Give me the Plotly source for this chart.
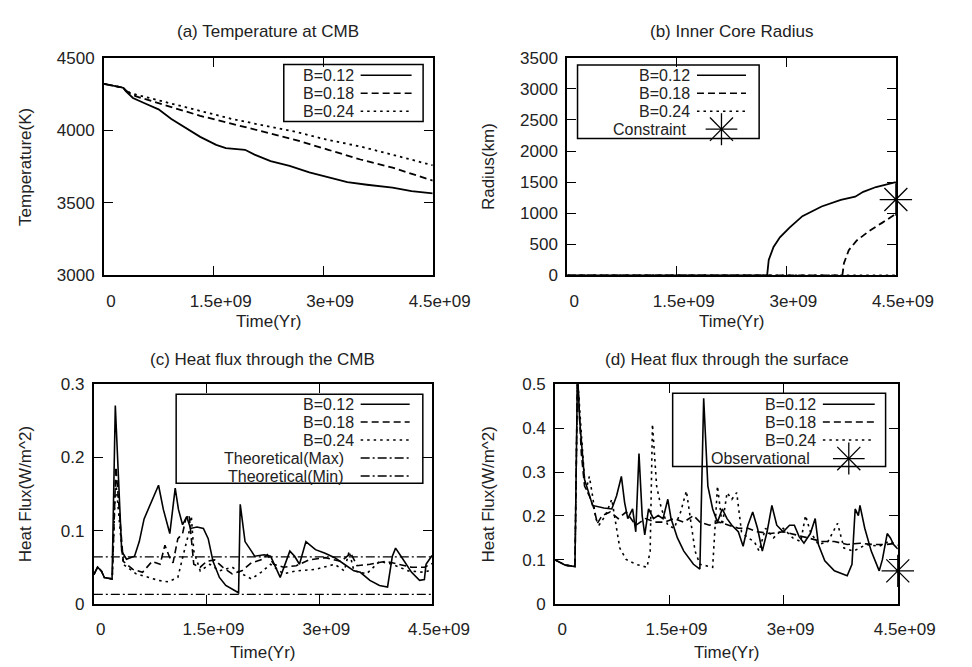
import plotly.graph_objects as go

W, H = 972, 667
FONT = "Liberation Sans"
FS = 17

# ---------------- data ----------------
# (a) Temperature at CMB
ta_012 = [0, 0.26e9, 0.3e9, 0.35e9, 0.395e9, 0.57e9, 0.746e9, 0.921e9, 1.14e9, 1.316e9, 1.535e9,
          1.667e9, 1.93e9, 2.06e9, 2.28e9, 2.54e9, 2.81e9, 3.07e9, 3.33e9, 3.6e9, 3.95e9, 4.21e9, 4.5e9]
Ta_012 = [4320, 4294, 4268, 4245, 4223, 4183, 4145, 4078, 4011, 3955, 3900,
          3877, 3866, 3833, 3788, 3755, 3710, 3676, 3643, 3625, 3605, 3581, 3565]
ta_018 = [0, 0.26e9, 0.3e9, 0.35e9, 0.44e9, 0.877e9, 1.316e9, 1.754e9, 2.19e9, 2.63e9, 3.07e9, 3.51e9, 3.95e9, 4.5e9]
Ta_018 = [4320, 4294, 4275, 4255, 4234, 4167, 4100, 4045, 3989, 3933, 3866, 3799, 3743, 3654]
ta_024 = [0, 0.26e9, 0.3e9, 0.35e9, 0.44e9, 0.877e9, 1.316e9, 1.754e9, 2.19e9, 2.63e9, 3.07e9, 3.51e9, 3.95e9, 4.5e9]
Ta_024 = [4320, 4294, 4276, 4260, 4246, 4190, 4134, 4078, 4033, 3989, 3933, 3889, 3832, 3759]

# (b) Inner core radius
tb_012 = [0, 2.737e9, 2.759e9, 2.825e9, 2.912e9, 3.044e9, 3.22e9, 3.483e9, 3.746e9, 3.943e9, 4.053e9, 4.228e9, 4.5e9]
rb_012 = [0, 0, 250, 458, 614, 770, 953, 1109, 1214, 1266, 1344, 1422, 1500]
tb_018 = [0, 3.767e9, 3.789e9, 3.855e9, 3.965e9, 4.14e9, 4.316e9, 4.5e9]
rb_018 = [0, 0, 198, 406, 562, 719, 849, 990]
tb_024 = [0, 4.5e9]
rb_024 = [0, 0]
constraint_t = [4.5e9]
constraint_r = [1220]

# (c) Heat flux through the CMB
tc_012 = [0, 0.05e9, 0.1e9, 0.14e9, 0.243e9, 0.286e9, 0.371e9, 0.435e9, 0.542e9, 0.605e9, 0.669e9, 0.776e9,
          0.861e9, 0.925e9, 1.011e9, 1.083e9, 1.126e9, 1.181e9, 1.236e9, 1.287e9, 1.373e9, 1.458e9, 1.522e9,
          1.586e9, 1.671e9, 1.756e9, 1.841e9, 1.926e9, 1.948e9, 2.012e9, 2.097e9, 2.14e9, 2.267e9, 2.352e9,
          2.48e9, 2.544e9, 2.608e9, 2.672e9, 2.736e9, 2.822e9, 2.949e9, 3.077e9, 3.205e9, 3.333e9, 3.46e9,
          3.546e9, 3.673e9, 3.801e9, 3.908e9, 3.972e9, 4.015e9, 4.1e9, 4.228e9, 4.334e9, 4.398e9, 4.42e9, 4.5e9]
qc_012 = [0.04, 0.05, 0.045, 0.036, 0.034, 0.271, 0.072, 0.061, 0.065, 0.085, 0.116, 0.142,
          0.162, 0.129, 0.096, 0.158, 0.129, 0.108, 0.119, 0.103, 0.105, 0.103, 0.089,
          0.058, 0.036, 0.025, 0.020, 0.015, 0.136, 0.085, 0.072, 0.065, 0.067, 0.065,
          0.036, 0.054, 0.072, 0.065, 0.054, 0.085, 0.074, 0.069, 0.063, 0.054, 0.045,
          0.043, 0.032, 0.025, 0.023, 0.065, 0.076, 0.063, 0.043, 0.032, 0.033, 0.054, 0.066]
tc_018 = [0, 0.05e9, 0.1e9, 0.14e9, 0.245e9, 0.294e9, 0.392e9, 0.52e9, 0.648e9, 0.776e9, 0.882e9, 0.946e9,
          1.011e9, 1.054e9, 1.118e9, 1.181e9, 1.224e9, 1.267e9, 1.33e9, 1.416e9, 1.501e9, 1.607e9, 1.714e9,
          1.841e9, 1.97e9, 2.097e9, 2.225e9, 2.31e9, 2.395e9, 2.523e9, 2.693e9, 2.864e9, 3.077e9, 3.29e9,
          3.418e9, 3.503e9, 3.673e9, 3.886e9, 4.057e9, 4.228e9, 4.398e9, 4.5e9]
qc_018 = [0.04, 0.05, 0.045, 0.036, 0.034, 0.187, 0.058, 0.047, 0.043, 0.058, 0.054, 0.080,
          0.063, 0.056, 0.089, 0.096, 0.116, 0.122, 0.054, 0.050, 0.058, 0.060, 0.050,
          0.041, 0.045, 0.056, 0.060, 0.067, 0.054, 0.050, 0.052, 0.060, 0.063, 0.058,
          0.069, 0.052, 0.054, 0.058, 0.054, 0.050, 0.050, 0.055]
tc_024 = [0, 0.05e9, 0.1e9, 0.14e9, 0.245e9, 0.29e9, 0.392e9, 0.563e9, 0.733e9, 0.861e9, 0.989e9, 1.118e9,
          1.203e9, 1.267e9, 1.297e9, 1.33e9, 1.416e9, 1.544e9, 1.671e9, 1.841e9, 1.97e9, 2.097e9, 2.225e9,
          2.352e9, 2.523e9, 2.693e9, 2.949e9, 3.205e9, 3.333e9, 3.397e9, 3.46e9, 3.631e9, 3.801e9, 3.972e9,
          4.185e9, 4.398e9, 4.5e9]
qc_024 = [0.04, 0.05, 0.045, 0.036, 0.034, 0.17, 0.054, 0.041, 0.036, 0.032, 0.030, 0.036,
          0.072, 0.098, 0.120, 0.072, 0.045, 0.054, 0.045, 0.050, 0.041, 0.034, 0.043,
          0.054, 0.041, 0.045, 0.047, 0.054, 0.045, 0.072, 0.045, 0.041, 0.058, 0.054,
          0.045, 0.043, 0.047]
tc_theory = [0, 4.5e9]
qc_max = [0.064, 0.064]
qc_min = [0.013, 0.013]

# (d) Heat flux through the surface
td_012 = [0, 0.05e9, 0.133e9, 0.259e9, 0.292e9, 0.322e9, 0.385e9, 0.427e9, 0.49e9, 0.638e9, 0.743e9, 0.806e9,
          0.869e9, 0.911e9, 0.953e9, 1.016e9, 1.058e9, 1.1e9, 1.142e9, 1.176e9, 1.226e9, 1.29e9, 1.353e9,
          1.416e9, 1.479e9, 1.521e9, 1.605e9, 1.689e9, 1.816e9, 1.9e9, 1.95e9, 2.005e9, 2.068e9, 2.131e9,
          2.194e9, 2.257e9, 2.32e9, 2.405e9, 2.468e9, 2.531e9, 2.594e9, 2.657e9, 2.72e9, 2.783e9, 2.846e9,
          2.91e9, 2.994e9, 3.078e9, 3.141e9, 3.204e9, 3.267e9, 3.351e9, 3.415e9, 3.457e9, 3.541e9, 3.667e9,
          3.835e9, 3.898e9, 3.94e9, 3.982e9, 4.003e9, 4.066e9, 4.151e9, 4.256e9, 4.298e9, 4.361e9, 4.403e9,
          4.445e9, 4.5e9]
qd_012 = [0.1, 0.095, 0.088, 0.085, 0.53, 0.416, 0.283, 0.26, 0.224, 0.218, 0.216, 0.246,
          0.290, 0.231, 0.194, 0.216, 0.164, 0.342, 0.201, 0.157, 0.216, 0.194, 0.201,
          0.194, 0.238, 0.194, 0.150, 0.120, 0.090, 0.079, 0.468, 0.268, 0.216, 0.186,
          0.216, 0.194, 0.179, 0.164, 0.131, 0.179, 0.209, 0.172, 0.120, 0.164, 0.224,
          0.179, 0.164, 0.179, 0.179, 0.153, 0.138, 0.160, 0.194, 0.135, 0.098, 0.075,
          0.064, 0.090, 0.216, 0.201, 0.224, 0.172, 0.120, 0.075, 0.101, 0.160, 0.150,
          0.135, 0.125]
td_018 = [0, 0.05e9, 0.133e9, 0.259e9, 0.292e9, 0.343e9, 0.385e9, 0.448e9, 0.511e9, 0.553e9, 0.616e9, 0.722e9,
          0.827e9, 0.932e9, 1.058e9, 1.185e9, 1.311e9, 1.437e9, 1.563e9, 1.689e9, 1.816e9, 1.9e9, 2.026e9,
          2.152e9, 2.278e9, 2.405e9, 2.531e9, 2.657e9, 2.825e9, 2.994e9, 3.162e9, 3.33e9, 3.499e9, 3.667e9,
          3.835e9, 4.003e9, 4.172e9, 4.34e9, 4.5e9]
qd_018 = [0.1, 0.095, 0.088, 0.085, 0.52, 0.342, 0.268, 0.246, 0.216, 0.183, 0.201, 0.209,
          0.194, 0.209, 0.179, 0.194, 0.186, 0.186, 0.194, 0.186, 0.201, 0.186, 0.179,
          0.186, 0.179, 0.172, 0.172, 0.164, 0.160, 0.164, 0.157, 0.150, 0.142, 0.142,
          0.135, 0.138, 0.135, 0.135, 0.138]
td_024 = [0, 0.05e9, 0.133e9, 0.259e9, 0.292e9, 0.343e9, 0.385e9, 0.406e9, 0.448e9, 0.49e9, 0.532e9, 0.574e9,
          0.659e9, 0.743e9, 0.806e9, 0.848e9, 0.932e9, 1.058e9, 1.205e9, 1.247e9, 1.277e9, 1.332e9, 1.395e9,
          1.479e9, 1.563e9, 1.647e9, 1.723e9, 1.774e9, 1.837e9, 1.9e9, 1.984e9, 2.068e9, 2.131e9, 2.194e9,
          2.257e9, 2.32e9, 2.384e9, 2.447e9, 2.531e9, 2.615e9, 2.678e9, 2.762e9, 2.868e9, 2.994e9, 3.12e9,
          3.225e9, 3.288e9, 3.351e9, 3.457e9, 3.583e9, 3.709e9, 3.793e9, 3.919e9, 4.087e9, 4.256e9, 4.382e9,
          4.5e9]
qd_024 = [0.1, 0.095, 0.088, 0.085, 0.52, 0.387, 0.283, 0.26, 0.290, 0.246, 0.194, 0.179,
          0.201, 0.238, 0.172, 0.127, 0.101, 0.090, 0.083, 0.120, 0.409, 0.268, 0.216,
          0.179, 0.172, 0.209, 0.257, 0.194, 0.120, 0.090, 0.087, 0.083, 0.268, 0.179,
          0.253, 0.238, 0.253, 0.164, 0.150, 0.142, 0.120, 0.172, 0.150, 0.172, 0.150,
          0.142, 0.201, 0.164, 0.135, 0.142, 0.183, 0.127, 0.120, 0.135, 0.131, 0.142,
          0.133]
obs_t = [4.5e9]
obs_q = [0.075]

x_tickvals = [0, 1.5e9, 3e9, 4.5e9]
x_ticktext = ["0", "1.5e+09", "3e+09", "4.5e+09"]

titles = ["(a) Temperature at CMB", "(b) Inner Core Radius",
          "(c) Heat flux through the CMB", "(d) Heat flux through the surface"]
ytitles = ["Temperature(K)", "Radius(km)", "Heat Flux(W/m^2)", "Heat Flux(W/m^2)"]

# ---------------- layout helpers (pixel boxes) ----------------
def px(x):
    return x / W

def py(y):
    return 1 - y / H

boxes = {  # left, right, top, bottom (pixels)
    1: (100, 442, 42, 266),
    2: (582, 924, 42, 266),
    3: (89.3, 441.3, 378, 604),
    4: (569.5, 926, 378, 604),
}

fig = go.Figure()

LW = 1.8
DASH = "7px,4px"
DOT = "2.5px,4px"
DASHDOT = "9px,3px,2px,3px"

def add_line(x, y, n, dash="solid", width=LW):
    fig.add_trace(go.Scatter(x=x, y=y, mode="lines", showlegend=False, hoverinfo="skip",
                             line=dict(color="black", width=width, dash=dash),
                             xaxis="x" if n == 1 else f"x{n}", yaxis="y" if n == 1 else f"y{n}"))

def add_star(x, y, n):
    fig.add_trace(go.Scatter(x=x, y=y, mode="markers", showlegend=False, hoverinfo="skip", cliponaxis=False,
                             marker=dict(symbol="asterisk-open", size=27, color="black",
                                         line=dict(color="black", width=1.3)),
                             xaxis=f"x{n}", yaxis=f"y{n}"))

add_line(ta_012, Ta_012, 1)
add_line(ta_018, Ta_018, 1, DASH)
add_line(ta_024, Ta_024, 1, DOT)

add_line(tb_024, rb_024, 2, DOT)
add_line(tb_012, rb_012, 2)
add_line(tb_018, rb_018, 2, DASH)
add_star(constraint_t, constraint_r, 2)

add_line(tc_theory, qc_max, 3, DASHDOT, 1.3)
add_line(tc_theory, qc_min, 3, DASHDOT, 1.3)
add_line(tc_024, qc_024, 3, DOT, 1.6)
add_line(tc_018, qc_018, 3, DASH, 1.6)
add_line(tc_012, qc_012, 3, "solid", 1.6)

add_line(td_024, qd_024, 4, DOT, 1.6)
add_line(td_018, qd_018, 4, DASH, 1.6)
add_line(td_012, qd_012, 4, "solid", 1.6)
add_star(obs_t, obs_q, 4)

yranges = {1: (3000, 4500), 2: (0, 3500), 3: (0, 0.3), 4: (0, 0.5)}
yticks = {1: [3000, 3500, 4000, 4500], 2: [0, 500, 1000, 1500, 2000, 2500, 3000, 3500],
          3: [0, 0.1, 0.2, 0.3], 4: [0, 0.1, 0.2, 0.3, 0.4, 0.5]}
ytext = {1: ["3000", "3500", "4000", "4500"], 2: ["0", "500", "1000", "1500", "2000", "2500", "3000", "3500"],
         3: ["0", "0.1", "0.2", "0.3"], 4: ["0", "0.1", "0.2", "0.3", "0.4", "0.5"]}

common = dict(showline=True, linecolor="black", linewidth=2, mirror="ticks", ticks="inside",
              ticklen=9, tickwidth=1, tickcolor="black", showgrid=False, zeroline=False,
              layer="above traces", tickfont=dict(family=FONT, size=FS, color="#222"))

layout = dict(width=W, height=H, autosize=False, margin=dict(l=0, r=0, t=0, b=0),
              paper_bgcolor="white", plot_bgcolor="white", font=dict(family=FONT, size=FS, color="#222"))
for n, (l, r, t, b) in boxes.items():
    xk = "xaxis" if n == 1 else f"xaxis{n}"
    yk = "yaxis" if n == 1 else f"yaxis{n}"
    layout[xk] = dict(domain=[px(l), px(r)], range=[0, 4.5e9], tickvals=x_tickvals, ticktext=x_ticktext,
                      anchor="y" if n == 1 else f"y{n}", ticklabelshift=7, ticklabelstandoff=9, **common)
    layout[yk] = dict(domain=[py(b), py(t)], range=list(yranges[n]), tickvals=yticks[n], ticktext=ytext[n],
                      anchor="x" if n == 1 else f"x{n}", ticklabelstandoff=4, **common)
fig.update_layout(**layout)

ann = []
shapes = []
title_y = {1: 15, 2: 15, 3: 353, 4: 353}
xt_y = {1: 313, 2: 313, 3: 654, 4: 654}
yt_x = {1: 18, 2: 500, 3: 18, 4: 500}
for n, (l, r, t, b) in boxes.items():
    cx = (l + r) / 2
    ann.append(dict(text=titles[n - 1], x=px(cx), y=py(title_y[n]), xref="paper", yref="paper",
                    showarrow=False, xanchor="center", yanchor="middle", font=dict(family=FONT, size=FS)))
    ann.append(dict(text="Time(Yr)", x=px(cx), y=py(xt_y[n]), xref="paper", yref="paper",
                    showarrow=False, xanchor="center", yanchor="middle", font=dict(family=FONT, size=FS)))
    ann.append(dict(text=ytitles[n - 1], x=px(yt_x[n]), y=py((t + b) / 2), xref="paper", yref="paper",
                    showarrow=False, xanchor="center", yanchor="middle", textangle=-90,
                    font=dict(family=FONT, size=FS)))

# legends: box, entries (label, text_right, row_y, kind)
LFS = 16
legends = [
    dict(box=(287, 432, 49, 107.5), sample=(367, 420),
         rows=[("B=0.12", 362, 60, "solid"), ("B=0.18", 362, 78.5, DASH), ("B=0.24", 362, 97, DOT)]),
    dict(box=(592.7, 781.7, 49.3, 125), sample=(717, 768),
         rows=[("B=0.12", 712, 60, "solid"), ("B=0.18", 712, 78.5, DASH), ("B=0.24", 712, 97, DOT),
               ("Constraint", 708, 115.5, "star")]),
    dict(box=(175, 431.7, 388.3, 480), sample=(367, 418),
         rows=[("B=0.12", 362, 398.5, "solid"), ("B=0.18", 362, 417, DASH), ("B=0.24", 362, 435.5, DOT),
               ("Theoretical(Max)", 352, 454, DASHDOT), ("Theoretical(Min)", 352, 472.5, DASHDOT)]),
    dict(box=(691.7, 913.3, 387.3, 462.7), sample=(848, 902),
         rows=[("B=0.12", 843, 398.5, "solid"), ("B=0.18", 843, 417, DASH), ("B=0.24", 843, 435.5, DOT),
               ("Observational", 837, 454.5, "star")]),
]
for lg in legends:
    x0, x1, y0, y1 = lg["box"]
    shapes.append(dict(type="rect", xref="paper", yref="paper", x0=px(x0), x1=px(x1), y0=py(y1), y1=py(y0),
                       line=dict(color="black", width=1.5), fillcolor="rgba(0,0,0,0)"))
    s0, s1 = lg["sample"]
    for label, tr, ry, kind in lg["rows"]:
        ann.append(dict(text=label, x=px(tr), y=py(ry), xref="paper", yref="paper", showarrow=False,
                        xanchor="right", yanchor="middle", font=dict(family=FONT, size=LFS)))
        if kind == "star":
            cx = (s0 + s1) / 2
            for dx, dy in [(16.5, 0), (0, 16.5), (12, 12), (12, -12)]:
                shapes.append(dict(type="line", xref="paper", yref="paper",
                                   x0=px(cx - dx), x1=px(cx + dx), y0=py(ry - dy), y1=py(ry + dy),
                                   line=dict(color="black", width=1.3)))
        else:
            shapes.append(dict(type="line", xref="paper", yref="paper", x0=px(s0), x1=px(s1),
                               y0=py(ry), y1=py(ry), line=dict(color="black", width=1.5, dash=kind)))

fig.update_layout(annotations=ann, shapes=shapes)
fig.write_html("out.html")
